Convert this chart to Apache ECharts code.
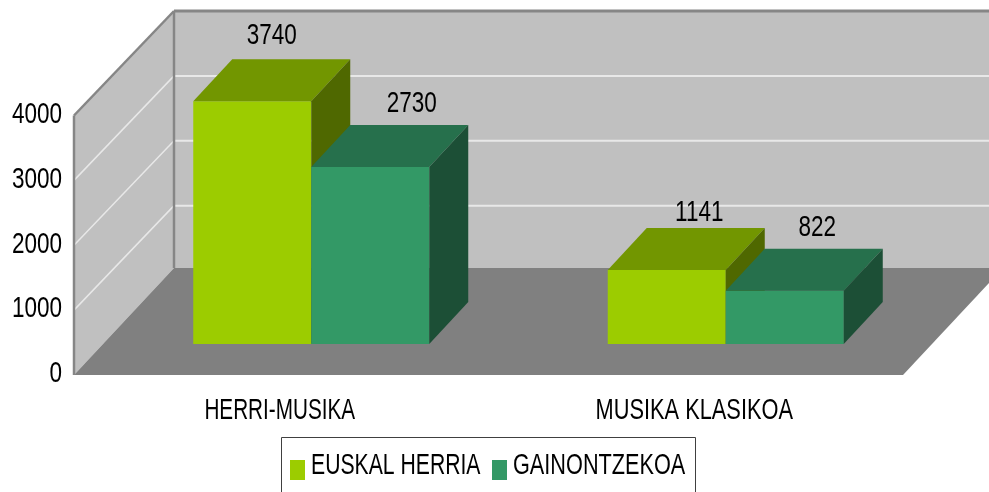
<!DOCTYPE html>
<html>
<head>
<meta charset="utf-8">
<script src="https://cdn.jsdelivr.net/npm/echarts@6/dist/echarts.min.js"></script>
<style>
html, body { margin: 0; padding: 0; background: #fff; }
#Map { width: 989px; height: 492px; }
</style>
</head>
<body>
<div id="Map"></div>
<script>
// data
var categories = ['HERRI-MUSIKA', 'MUSIKA KLASIKOA'];
var seriesNames = ['EUSKAL HERRIA', 'GAINONTZEKOA'];
var euskalHerria = [3740, 1141];
var gainontzekoa = [2730, 822];
var yTicks = [0, 1000, 2000, 3000, 4000];

// 3d look
var wallDepth = [100, -104.5];
var floorDepthY = -107;
var barDepth = [39, -42];
var barOffset = [30, -31];
var barShare = 118 / 414.5;
var frontColors = ['#9ccc00', '#339966'];
var topColors = ['#729600', '#26704c'];
var sideColors = ['#4f6800', '#1c4f36'];
var textFont = '30px "Liberation Sans", Arial, sans-serif';
// the original text is squeezed sideways, no narrow font here so scale it
var digitSqueeze = 0.75;
var categorySqueeze = [0.69, 0.727];
var legendSqueeze = [0.706, 0.723];
// value labels were placed by hand in the original: [dx, dy] from the top back edge
var labelNudge = [
  [[0, -24], [13, -15]],
  [[22, -21], [13, -21]]
];

function poly(points, color) {
  return {
    type: 'polygon',
    shape: { points: points },
    style: { fill: color },
    silent: true
  };
}

function line(x1, y1, x2, y2, color, width) {
  return {
    type: 'line',
    shape: { x1: x1, y1: y1, x2: x2, y2: y2 },
    style: { stroke: color, lineWidth: width },
    silent: true
  };
}

function label(text, x, y, squeeze, align) {
  return {
    type: 'text',
    silent: true,
    x: x,
    y: y,
    scaleX: squeeze,
    style: {
      text: text,
      fill: '#000',
      font: textFont,
      textAlign: align,
      textVerticalAlign: 'middle'
    }
  };
}

function renderWalls(params, api) {
  var c = params.coordSys;
  var x0 = c.x, x1 = c.x + c.width;
  var yBase = api.coord([0, 0])[1];
  var yTop = api.coord([0, 4000])[1];
  var dx = wallDepth[0], dy = wallDepth[1];
  var kids = [];
  kids.push(poly([[x0, yBase], [x0 + dx, yBase + floorDepthY], [x0 + dx, yTop + dy], [x0, yTop]], '#c0c0c0'));
  kids.push(poly([[x0 + dx, yBase + floorDepthY], [x1 + dx, yBase + floorDepthY], [x1 + dx, yTop + dy], [x0 + dx, yTop + dy]], '#c0c0c0'));
  kids.push(poly([[x0, yBase], [x1, yBase], [x1 + dx, yBase + floorDepthY], [x0 + dx, yBase + floorDepthY]], '#808080'));
  yTicks.forEach(function (v) {
    var y = api.coord([0, v])[1];
    kids.push(label(String(v), x0 - 12, y - 1, digitSqueeze, 'right'));
    if (v === 0 || v === 4000) return;
    kids.push(line(x0, y, x0 + dx, y + dy, '#e8e8e8', 1.5));
    kids.push(line(x0 + dx, y + dy, x1 + dx, y + dy, '#e8e8e8', 2));
  });
  kids.push(line(x0, yBase, x0, yTop, '#868686', 2.5));
  kids.push(line(x0, yTop, x0 + dx, yTop + dy, '#868686', 2.5));
  kids.push(line(x0 + dx, yBase + floorDepthY, x0 + dx, yTop + dy, '#868686', 2.5));
  kids.push(line(x0 + dx, yTop + dy, x1 + dx, yTop + dy, '#868686', 3));
  categories.forEach(function (name, i) {
    kids.push(label(name, api.coord([i, 0])[0] - 1.5, yBase + 36, categorySqueeze[i], 'center'));
  });
  return { type: 'group', children: kids };
}

function barRenderer(s) {
  return function (params, api) {
    var cat = api.value(0);
    var val = api.value(1);
    var band = api.size([1, 0])[0];
    var w = band * barShare;
    var p = api.coord([cat, val]);
    var base = api.coord([cat, 0]);
    var xl = p[0] + barOffset[0] + (s - 1) * w;
    var xr = xl + w;
    var yt = p[1] + barOffset[1];
    var yb = base[1] + barOffset[1];
    var dx = barDepth[0], dy = barDepth[1];
    var nudge = labelNudge[s][params.dataIndex];
    return {
      type: 'group',
      children: [
        poly([[xl, yt], [xr, yt], [xr, yb], [xl, yb]], frontColors[s]),
        poly([[xl, yt], [xr, yt], [xr + dx, yt + dy], [xl + dx, yt + dy]], topColors[s]),
        poly([[xr, yt], [xr + dx, yt + dy], [xr + dx, yb + dy], [xr, yb]], sideColors[s]),
        label(String(val), (xl + xr) / 2 + dx / 2 + nudge[0], yt + dy + nudge[1], digitSqueeze, 'center')
      ]
    };
  };
}

function pairs(values) {
  return values.map(function (v, i) { return [i, v]; });
}

function legendGraphics() {
  var keyX = [290, 492];
  var els = [{
    type: 'rect',
    silent: true,
    shape: { x: 281.5, y: 437.5, width: 414, height: 70 },
    style: { fill: '#fff', stroke: '#404040', lineWidth: 1 }
  }];
  seriesNames.forEach(function (name, i) {
    els.push({
      type: 'rect',
      silent: true,
      shape: { x: keyX[i], y: 460, width: 15, height: 20 },
      style: { fill: frontColors[i] }
    });
    els.push(label(name, keyX[i] + 21, 466, legendSqueeze[i], 'left'));
  });
  return els;
}

var myChart = echarts.init(document.getElementById('Map'));
var option = {
  animation: false,
  backgroundColor: '#fff',
  grid: { left: 74, top: 115.5, width: 829, height: 259.5, outerBoundsMode: 'none' },
  graphic: legendGraphics(),
  xAxis: {
    type: 'category',
    data: categories,
    axisLine: { show: false },
    axisTick: { show: false },
    splitLine: { show: false },
    axisLabel: { show: false }
  },
  yAxis: {
    type: 'value',
    min: 0,
    max: 4000,
    interval: 1000,
    axisLine: { show: false },
    axisTick: { show: false },
    splitLine: { show: false },
    axisLabel: { show: false }
  },
  series: [
    {
      name: 'walls',
      type: 'custom',
      silent: true,
      clip: false,
      renderItem: renderWalls,
      data: [[0, 0]]
    },
    {
      name: seriesNames[0],
      type: 'custom',
      clip: false,
      encode: { x: 0, y: 1 },
      renderItem: barRenderer(0),
      data: pairs(euskalHerria)
    },
    {
      name: seriesNames[1],
      type: 'custom',
      clip: false,
      encode: { x: 0, y: 1 },
      renderItem: barRenderer(1),
      data: pairs(gainontzekoa)
    }
  ]
};
myChart.setOption(option);
</script>
</body>
</html>
